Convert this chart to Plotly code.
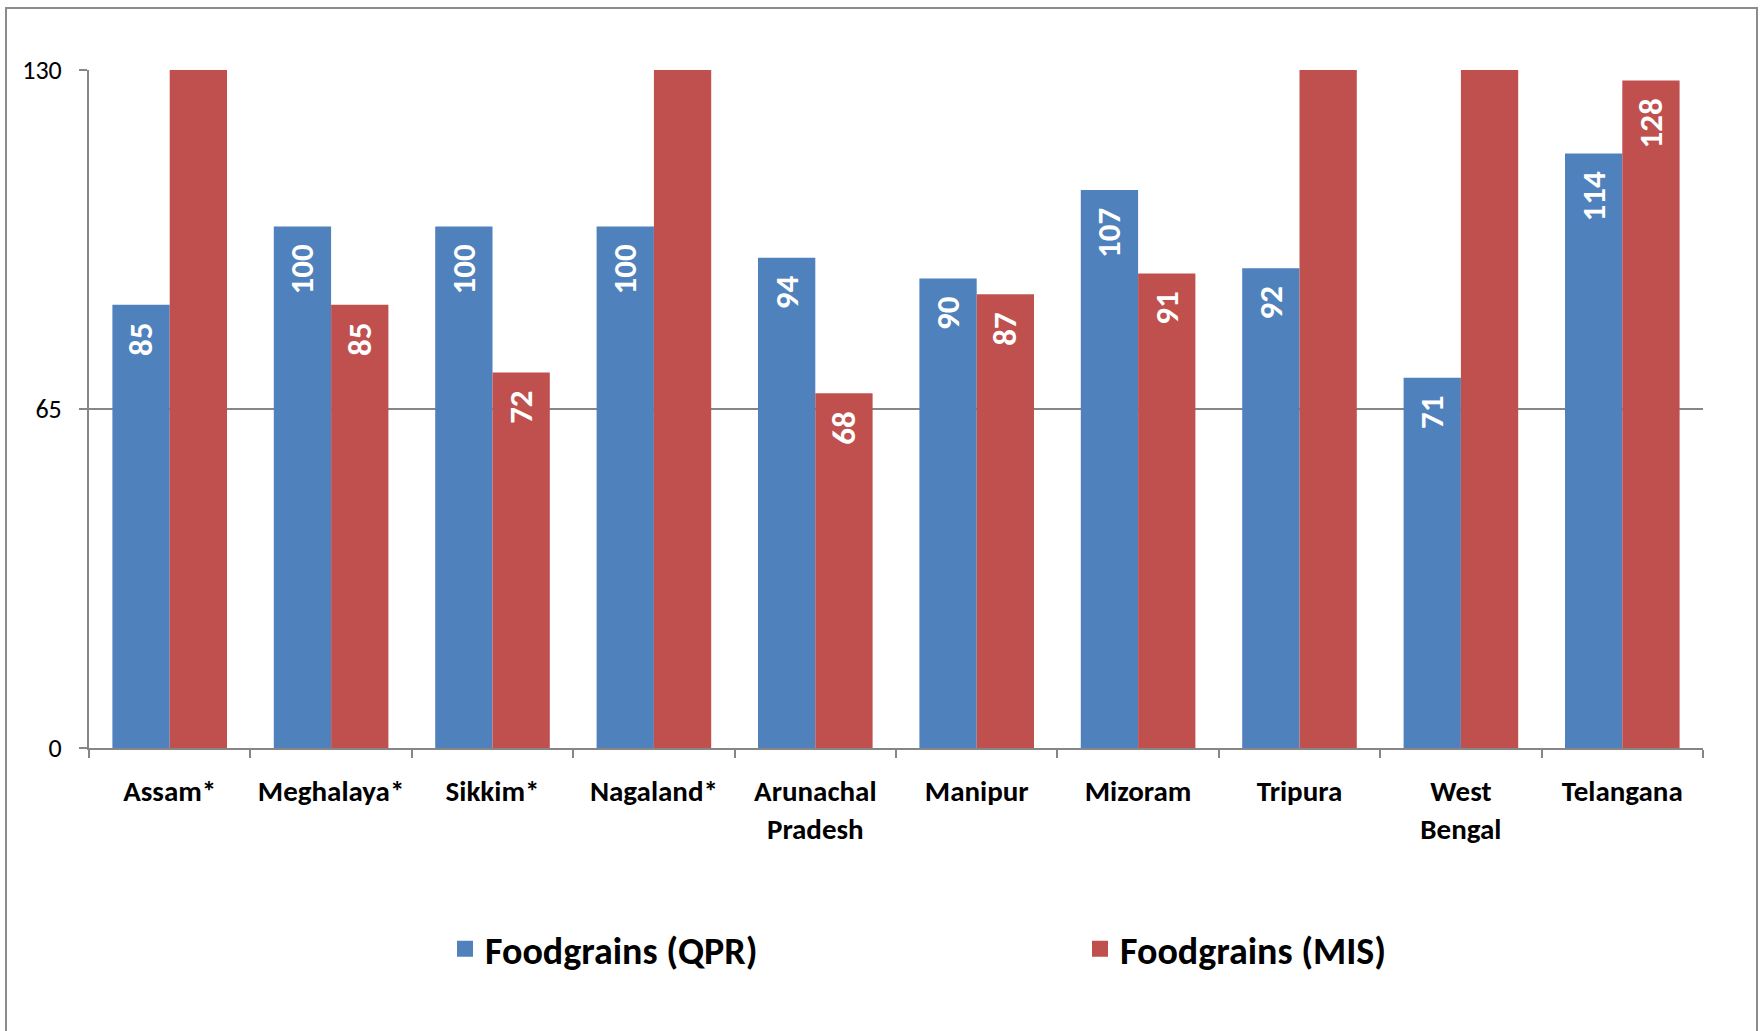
import plotly.graph_objects as go

# Chart data (MIS bars that run past the axis top are clipped there)
STATES = ["Assam*", "Meghalaya*", "Sikkim*", "Nagaland*", "Arunachal<br>Pradesh",
          "Manipur", "Mizoram", "Tripura", "West<br>Bengal", "Telangana"]
QPR = [85, 100, 100, 100, 94, 90, 107, 92, 71, 114]
MIS = [140, 85, 72, 140, 68, 87, 91, 140, 140, 128]
Y_MAX = 130
Y_TICKS = [0, 65, 130]

COLORS = {
    'qpr': '#4F81BD',
    'mis': '#C0504D',
    'grid': '#868686',
    'frame': '#8C8C8C',
    'text': '#000000',
}
FONT = "Carlito, Lato, 'Liberation Sans', sans-serif"

W, H = 1761, 1031
PLOT_L, PLOT_R, PLOT_T, PLOT_B = 89, 1703, 70, 748


def px_x(x):
    return (x - PLOT_L) / (PLOT_R - PLOT_L)


def px_y(y):
    return (PLOT_B - y) / (PLOT_B - PLOT_T)


def label(v):
    # Excel hides labels of bars clipped at the axis maximum;
    # trailing nbsp keeps the label off the bar end like Excel does
    return str(v) + "\u00a0\u00a0" if v <= Y_MAX else ""


fig = go.Figure()

for name, vals, color in [("Foodgrains (QPR)", QPR, COLORS['qpr']),
                          ("Foodgrains (MIS)", MIS, COLORS['mis'])]:
    fig.add_trace(go.Bar(
        x=STATES, y=vals, name=name,
        marker=dict(color=color, line=dict(width=0)),
        text=[label(v) for v in vals],
        textposition='inside',
        insidetextanchor='end',
        textangle=-90,
        textfont=dict(family=FONT, size=33, color='white', weight='bold'),
        cliponaxis=True,
        showlegend=False,
    ))
    # legend proxy with a bigger square swatch
    fig.add_trace(go.Scatter(
        x=[None], y=[None], mode='markers', name=name,
        marker=dict(symbol='square', size=20, color=color),
    ))

fig.update_layout(
    width=W, height=H,
    margin=dict(l=PLOT_L, r=W - PLOT_R, t=PLOT_T, b=H - PLOT_B),
    paper_bgcolor='white',
    plot_bgcolor='white',
    font=dict(family=FONT, color=COLORS['text']),
    barmode='group',
    bargap=0.29,
    bargroupgap=0,
    xaxis=dict(
        showline=True, linecolor=COLORS['grid'], linewidth=2,
        ticks='outside', tickson='boundaries', ticklen=8, tickwidth=2, tickcolor=COLORS['grid'],
        tickfont=dict(family=FONT, size=29, weight='bold', color='black'),
        tickangle=0,
        ticklabelstandoff=16,
        showgrid=False,
    ),
    yaxis=dict(
        range=[0, Y_MAX], tickvals=Y_TICKS,
        showline=True, linecolor=COLORS['grid'], linewidth=2,
        ticks='outside', ticklen=8, tickwidth=2, tickcolor=COLORS['grid'],
        tickfont=dict(family=FONT, size=26, color='black'),
        ticklabelstandoff=12,
        showgrid=True, gridcolor=COLORS['grid'], gridwidth=2,
        zeroline=False,
    ),
    legend=dict(
        orientation='h',
        x=px_x(445), xanchor='left',
        y=px_y(949), yanchor='middle',
        entrywidth=590,
        font=dict(family=FONT, size=38, weight='bold', color='black'),
        itemsizing='trace',
    ),
    shapes=[dict(
        type='rect', xref='paper', yref='paper', layer='below',
        x0=px_x(6), x1=px_x(1757), y0=px_y(1045), y1=px_y(8),
        line=dict(color=COLORS['frame'], width=2), fillcolor='rgba(0,0,0,0)',
    )],
)

fig.write_html("out.html", config={'displayModeBar': False},
               post_script="document.body.style.margin='0';")
